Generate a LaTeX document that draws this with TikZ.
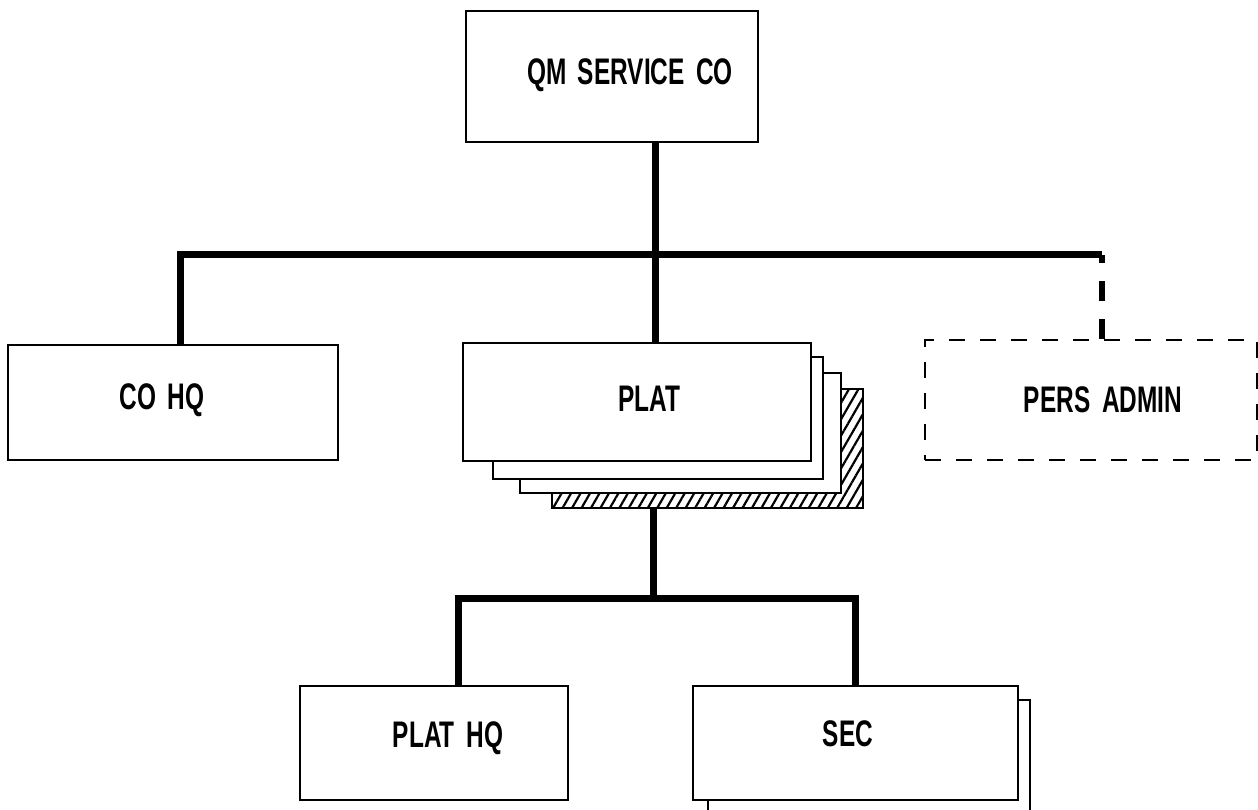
\documentclass[tikz,border=0pt]{standalone}
\usepackage{fontspec}
\newfontfamily\lblfont{Liberation Sans}[FakeStretch=0.66,WordSpace=1.7]
\usetikzlibrary{patterns.meta}
\begin{document}
\begin{tikzpicture}[x=1pt,y=-1pt,
  box/.style={draw, line width=2.8pt, fill=white, inner sep=0pt},
  lbl/.style={font=\lblfont\bfseries\fontsize{37}{40}\selectfont, inner sep=0pt},
  hatchbox/.style={draw, line width=2.8pt, pattern={Lines[angle=60,distance=8.2pt,line width=2.2pt]}},
  dashbox/.style={draw, line width=2.8pt, dash pattern=on 16pt off 15pt, inner sep=0pt},
  conn/.style={line width=7pt, line cap=butt, line join=miter},
  dconn/.style={line width=6pt, dash pattern=on 20pt off 18pt}
]
\fill[white] (0,0) rectangle (1258,810);
\useasboundingbox (0,0) rectangle (1258,810);
\clip (0,0) rectangle (1258,810);

% top
\node[box, minimum width=292pt, minimum height=131pt,
      label={[lbl,xshift=18pt,yshift=1.5pt]center:QM SERVICE CO}] (qm) at (612,76.5) {};

% second level
\node[box, minimum width=330pt, minimum height=115pt,
      label={[lbl,xshift=-11pt,yshift=2.5pt]center:CO HQ}] (coh) at (173,402.5) {};

\node[hatchbox, minimum width=311pt, minimum height=119pt] (plat4) at (707.5,448.5) {};
\node[box, minimum width=321pt, minimum height=120pt] (plat3) at (680.5,433) {};
\node[box, minimum width=330pt, minimum height=122pt] (plat2) at (658,418) {};
\node[box, minimum width=348pt, minimum height=118pt,
      label={[lbl,xshift=12pt,yshift=3pt]center:PLAT}] (plat) at (637,402) {};

\node[dashbox, minimum width=332pt, minimum height=120pt,
      label={[lbl,xshift=12pt]center:PERS ADMIN}] (pers) at (1091,400) {};

% third level
\node[box, minimum width=268pt, minimum height=114pt,
      label={[lbl,xshift=14pt,yshift=5pt]center:PLAT HQ}] (plathq) at (434,743) {};
\node[box, minimum width=322pt, minimum height=140pt] (sec2) at (869,770) {};
\node[box, minimum width=325pt, minimum height=114pt,
      label={[lbl,xshift=-7.5pt,yshift=9pt]center:SEC}] (sec) at (855.5,743) {};

% connector coordinates
\coordinate (b1) at (655,255);
\coordinate (xl) at (180,0);
\coordinate (xr) at (1102,0);
\coordinate (b2) at (653,598);
\coordinate (xl2) at (458,0);
\coordinate (xr2) at (855,0);

\draw[conn] (qm.south -| b1) -- (plat.north -| b1);
\draw[conn] (coh.north -| xl) -- (xl |- b1) -- (xr |- b1);
\draw[dconn] (pers.north -| xr) -- (xr |- b1);

\draw[conn] (plat4.south -| b2) -- (b2);
\draw[conn] (plathq.north -| xl2) -- (xl2 |- b2) -- (xr2 |- b2) -- (sec.north -| xr2);
\end{tikzpicture}
\end{document}
